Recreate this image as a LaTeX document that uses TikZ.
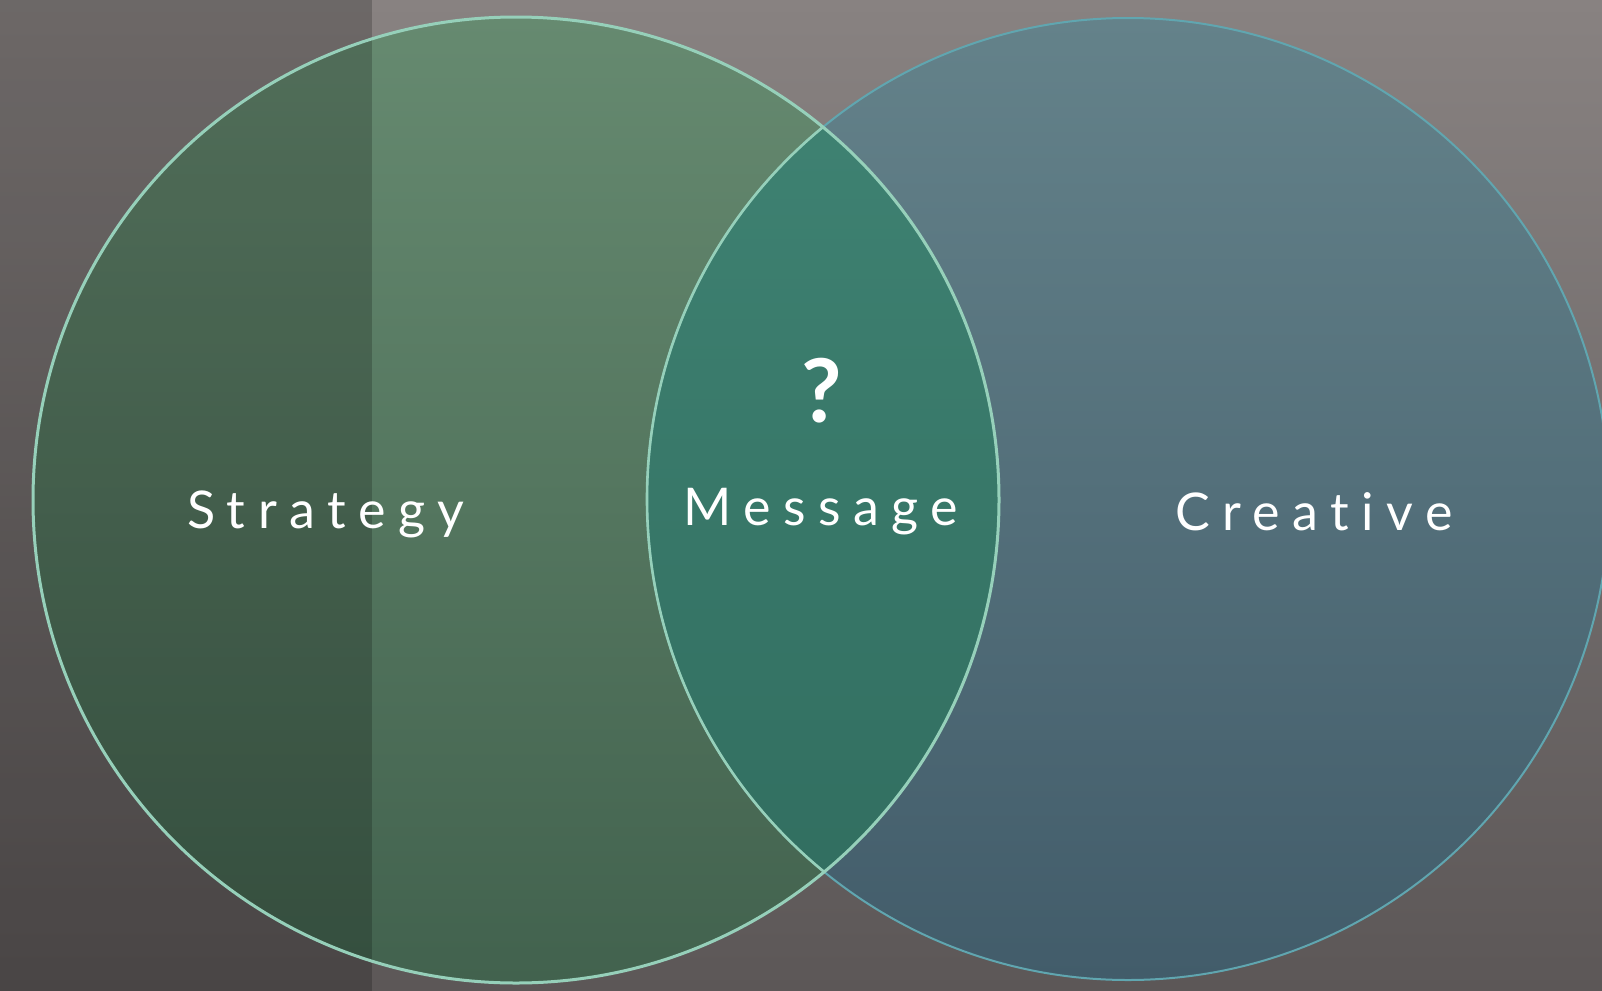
\documentclass[tikz,border=0pt]{standalone}
\usepackage{fontspec}
\newfontfamily\vennfont{Lato}[LetterSpace=24,Ligatures=NoCommon]
\newfontfamily\markfont{Lato}
\definecolor{wallTop}{RGB}{136,130,129}
\definecolor{wallBot}{RGB}{92,87,87}
\definecolor{stratTop}{RGB}{102,138,112}
\definecolor{stratBot}{RGB}{66,98,78}
\definecolor{creaTop}{RGB}{100,130,138}
\definecolor{creaBot}{RGB}{66,92,106}
\definecolor{mesTop}{RGB}{64,132,116}
\definecolor{mesBot}{RGB}{48,108,94}
\definecolor{mint}{RGB}{150,208,186}
\definecolor{teal}{RGB}{96,166,176}
\tikzset{label/.style={text=white,font=\vennfont\fontsize{26}{30}\selectfont,inner sep=0pt}}
\begin{document}
\begin{tikzpicture}[x=0.5pt,y=-0.5pt]
\useasboundingbox (0,0) rectangle (1602,991);
% wall
\shade[top color=wallTop,bottom color=wallBot] (0,0) rectangle (1602,991);
% the two sets
\shade[top color=stratTop,bottom color=stratBot] (516,500) circle (483);
\shade[top color=creaTop,bottom color=creaBot] (1128,499) circle (481);
\begin{scope}
  \clip (516,500) circle (483);
  \shade[top color=mesTop,bottom color=mesBot] (1128,499) circle (481);
\end{scope}
% shadow band on the left
\fill[black,opacity=0.2] (0,0) rectangle (372,991);
% outlines
\draw[teal,line width=1pt] (1128,499) circle (481);
\begin{scope}
  \clip (516,500) circle (483);
  \draw[mint,line width=1.3pt] (1128,499) circle (481);
\end{scope}
\draw[mint,line width=1.5pt] (516,500) circle (483);
% labels
\node[label,anchor=base west] (strategy) at (187,528) {Strategy};
\node[label,anchor=base west] (message) at (683,525) {Message};
\node[label,anchor=base west] (creative) at (1175,530) {Creative};
\node[text=white,font=\markfont\bfseries\fontsize{44}{48}\selectfont,inner sep=0pt,anchor=base] (mark) at (822,422) {?};
\end{tikzpicture}
\end{document}
